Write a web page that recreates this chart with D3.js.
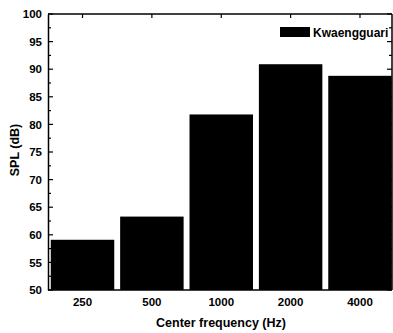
<!DOCTYPE html>
<html>
<head>
<meta charset="utf-8">
<script src="https://cdn.jsdelivr.net/npm/d3@7"></script>
<style>
  body { margin: 0; background: #fff; }
  text { font-family: "Liberation Sans", Arial, sans-serif; font-weight: bold; }
</style>
</head>
<body>
<svg id="chart"></svg>
<script>
var categories = ["250", "500", "1000", "2000", "4000"];
var splValues = [59.1, 63.3, 81.8, 90.9, 88.8];
var yTicks = [50, 55, 60, 65, 70, 75, 80, 85, 90, 95, 100];
var seriesName = "Kwaengguari";

var width = 393, height = 333;
var plotLeft = 48, plotRight = 392, plotTop = 14, plotBottom = 290;

var svg = d3.select("#chart")
  .attr("width", width)
  .attr("height", height);

var x = d3.scaleBand()
  .domain(categories)
  .range([plotLeft, 394.5])
  .paddingInner(0.085)
  .paddingOuter(0.04);

var y = d3.scaleLinear()
  .domain([50, 100])
  .range([plotBottom, plotTop]);

// bars
svg.selectAll("rect.bar")
  .data(splValues)
  .enter()
  .append("rect")
  .attr("class", "bar")
  .attr("x", function(d, i) { return x(categories[i]); })
  .attr("y", function(d) { return y(d); })
  .attr("width", function(d, i) { return Math.min(x.bandwidth(), plotRight - x(categories[i])); })
  .attr("height", function(d) { return y(50) - y(d); })
  .attr("fill", "#000");

// minor ticks every 2.5
var minorTicks = d3.range(52.5, 100, 5);

// left axis
var left = svg.append("g")
  .attr("transform", "translate(" + plotLeft + ",0)")
  .call(d3.axisLeft(y).tickValues(yTicks).tickSize(0).tickPadding(6));
left.select(".domain").attr("stroke-width", 1.5);
left.selectAll("text").attr("font-size", "11.5px").attr("fill", "#000");
svg.append("g").selectAll("line")
  .data(yTicks)
  .enter().append("line")
  .attr("x1", plotLeft).attr("x2", plotLeft + 5)
  .attr("y1", function(d) { return y(d); })
  .attr("y2", function(d) { return y(d); })
  .attr("stroke", "#000").attr("stroke-width", 1.2);
svg.append("g").selectAll("line")
  .data(minorTicks)
  .enter().append("line")
  .attr("x1", plotLeft).attr("x2", plotLeft + 3)
  .attr("y1", function(d) { return y(d); })
  .attr("y2", function(d) { return y(d); })
  .attr("stroke", "#000").attr("stroke-width", 1.2);

// right axis
svg.append("line")
  .attr("x1", plotRight).attr("x2", plotRight)
  .attr("y1", y(100)).attr("y2", y(50))
  .attr("stroke", "#000").attr("stroke-width", 1.5);
svg.append("g").selectAll("line")
  .data(yTicks.concat(minorTicks))
  .enter().append("line")
  .attr("x1", plotRight).attr("x2", function(d) { return d % 5 === 0 ? plotRight - 5 : plotRight - 3; })
  .attr("y1", function(d) { return y(d); })
  .attr("y2", function(d) { return y(d); })
  .attr("stroke", "#000").attr("stroke-width", 1.2);

// bottom axis
var bottom = svg.append("g")
  .attr("transform", "translate(0," + y(50) + ")")
  .call(d3.axisBottom(x).tickSize(0).tickPadding(8));
bottom.select(".domain").remove();
bottom.selectAll("text").attr("font-size", "11.5px").attr("fill", "#000");
svg.append("line")
  .attr("x1", plotLeft).attr("x2", plotRight)
  .attr("y1", y(50)).attr("y2", y(50))
  .attr("stroke", "#000").attr("stroke-width", 1.5);

// top axis
svg.append("line")
  .attr("x1", plotLeft).attr("x2", plotRight)
  .attr("y1", y(100)).attr("y2", y(100))
  .attr("stroke", "#000").attr("stroke-width", 1.5);
svg.append("g").selectAll("line")
  .data(categories)
  .enter().append("line")
  .attr("x1", function(d) { return x(d) + x.bandwidth() / 2; })
  .attr("x2", function(d) { return x(d) + x.bandwidth() / 2; })
  .attr("y1", y(100)).attr("y2", y(100) + 4)
  .attr("stroke", "#000").attr("stroke-width", 1.2);

// axis titles
svg.append("text")
  .attr("x", 221)
  .attr("y", 327)
  .attr("text-anchor", "middle")
  .attr("font-size", "12.5px")
  .text("Center frequency (Hz)");

svg.append("text")
  .attr("transform", "translate(19,150) rotate(-90)")
  .attr("text-anchor", "middle")
  .attr("font-size", "12.5px")
  .text("SPL (dB)");

// legend
var legend = svg.append("g");
legend.append("rect")
  .attr("x", 280).attr("y", 27)
  .attr("width", 30).attr("height", 10)
  .attr("fill", "#000");
legend.append("text")
  .attr("x", 313).attr("y", 37)
  .attr("font-size", "12px")
  .text(seriesName);
</script>
</body>
</html>
